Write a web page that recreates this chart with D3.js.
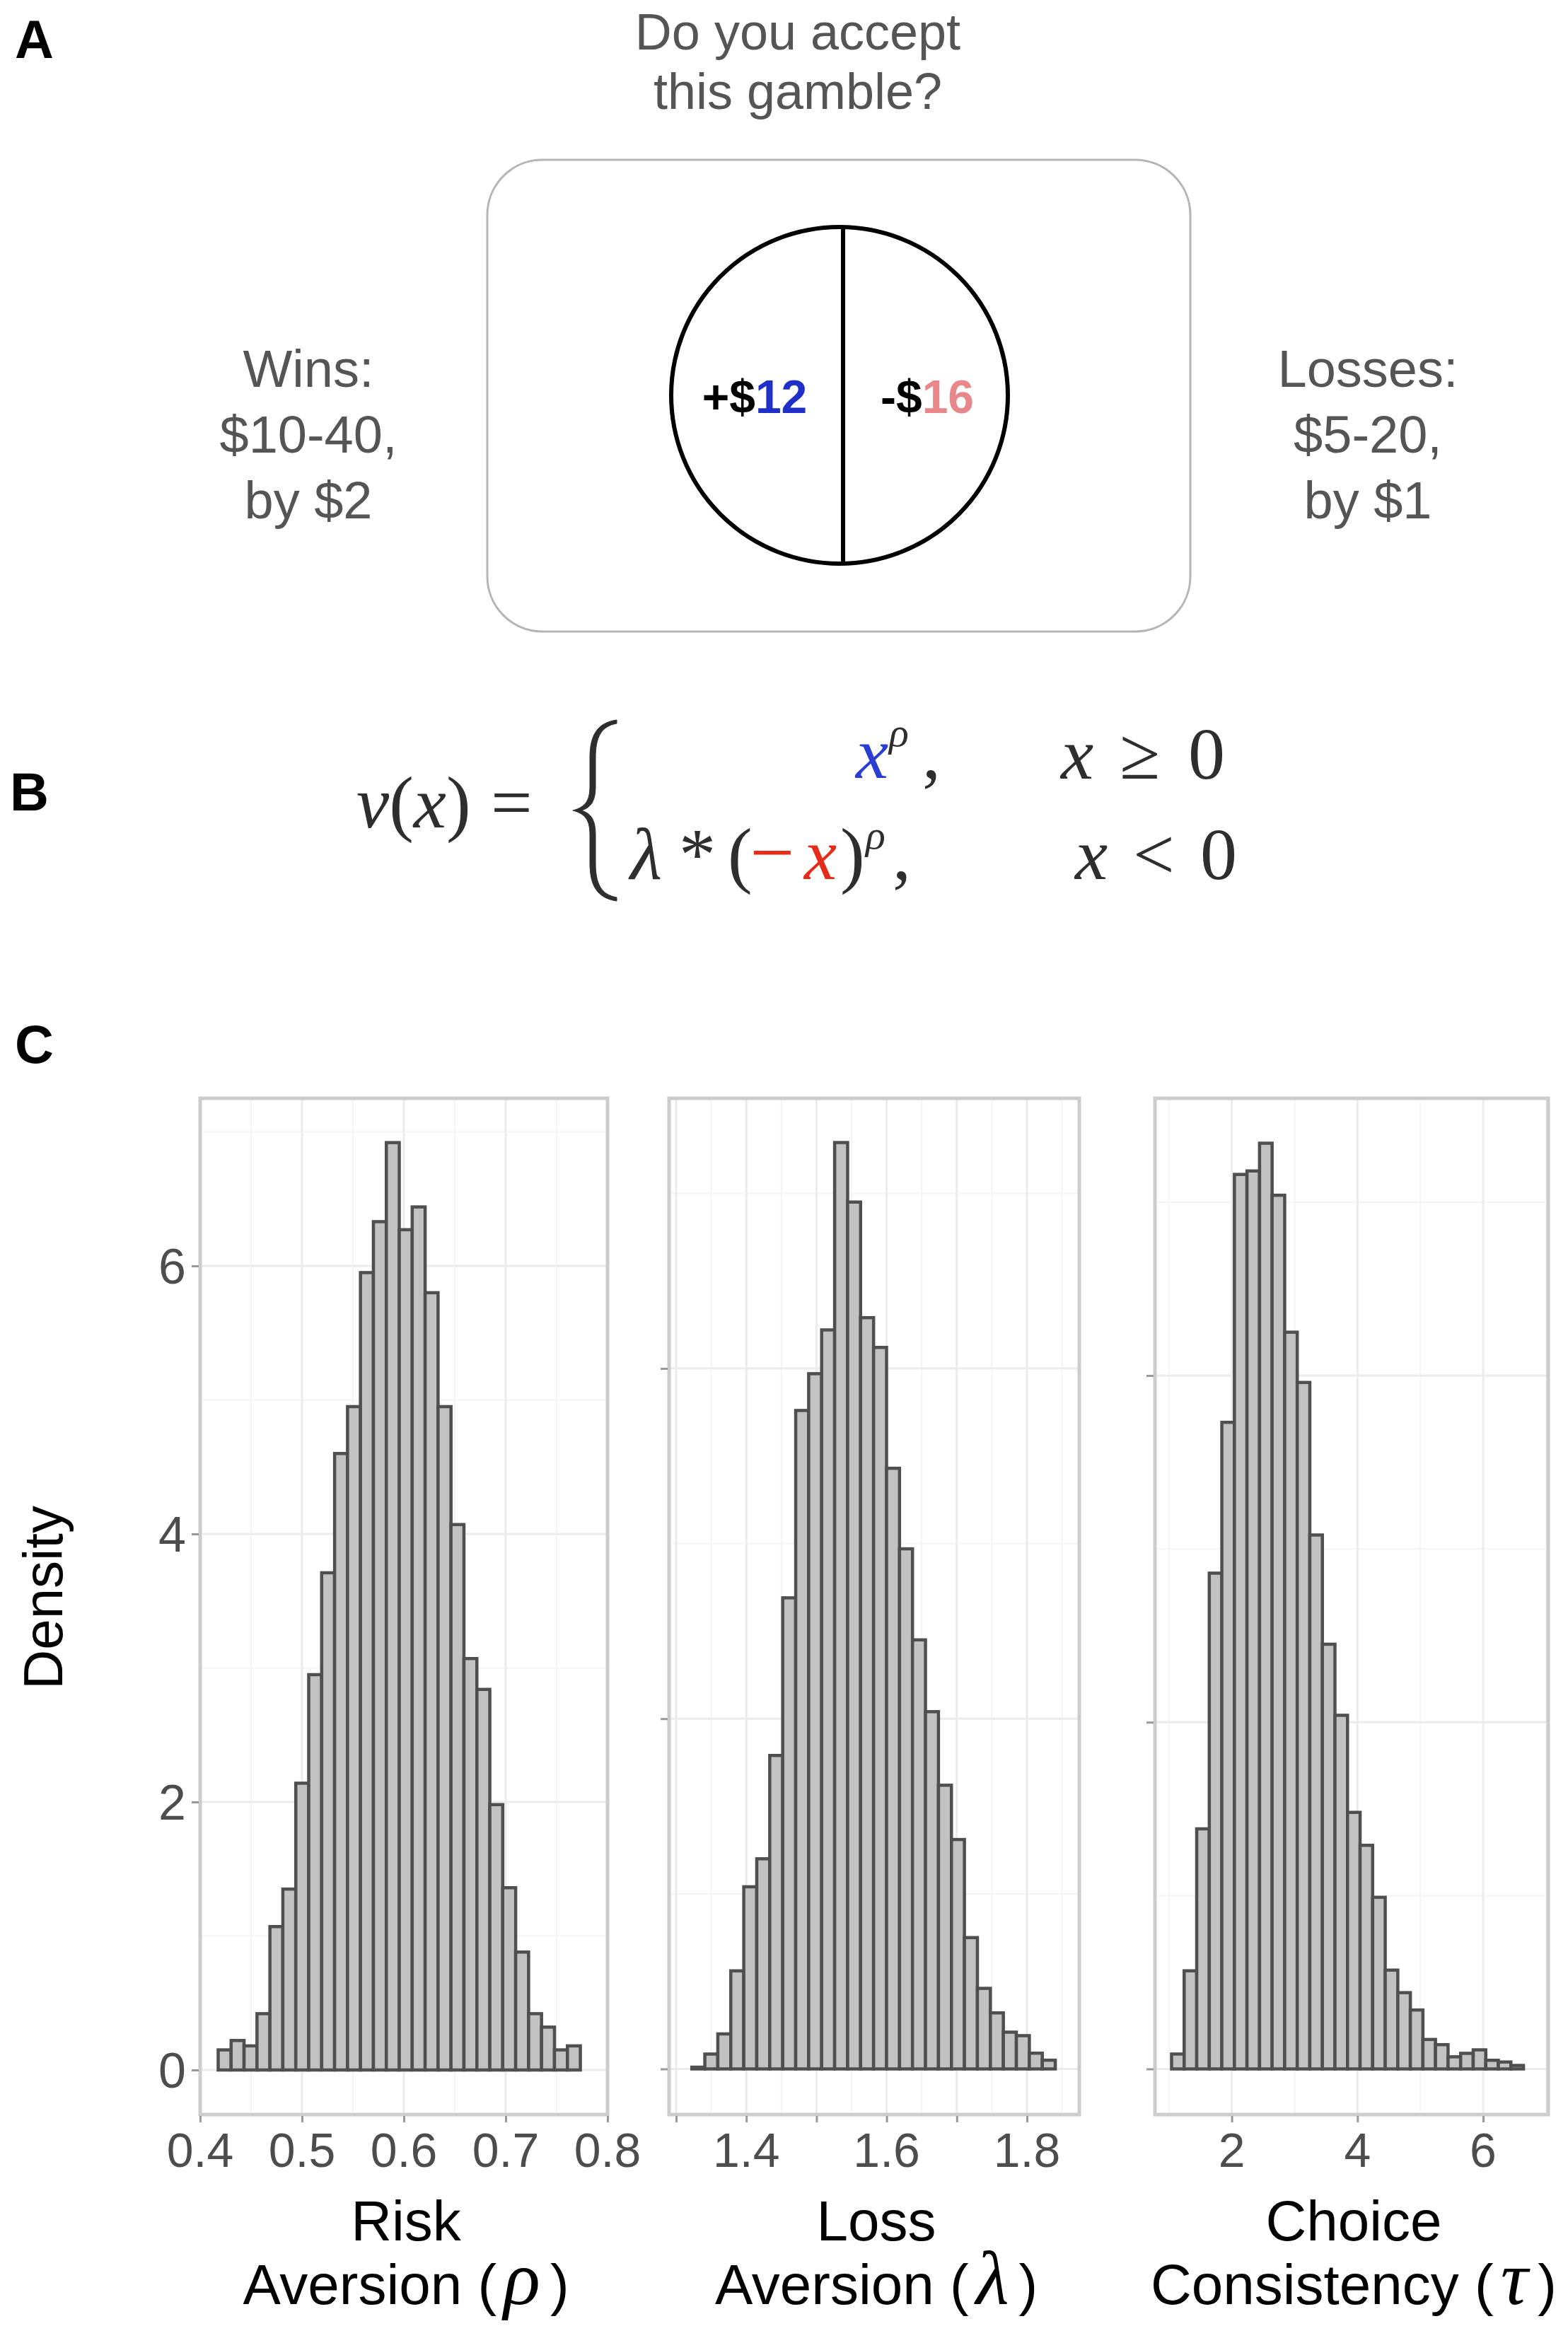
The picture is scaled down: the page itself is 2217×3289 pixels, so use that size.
<!DOCTYPE html>
<html>
<head>
<meta charset="utf-8">
<script src="https://cdn.jsdelivr.net/npm/d3@7"></script>
<style>
  html, body { margin: 0; padding: 0; background: #fff; }
  svg { display: block; }
</style>
</head>
<body>
<script>
// ---------------- DATA ----------------
const rhoDensity = [0.15, 0.22, 0.18, 0.42, 1.07, 1.35, 2.14, 2.95, 3.71, 4.60, 4.95, 5.95, 6.33, 6.92,
                    6.27, 6.44, 5.80, 4.95, 4.07, 3.07, 2.84, 1.98, 1.36, 0.88, 0.42, 0.32, 0.15, 0.18];
const lambdaDensity = [0.01, 0.085, 0.20, 0.56, 1.04, 1.20, 1.79, 2.69, 3.76, 3.97, 4.22, 5.29, 4.95, 4.29,
                       4.12, 3.43, 2.97, 2.45, 2.04, 1.62, 1.31, 0.75, 0.46, 0.32, 0.21, 0.19, 0.09, 0.05];
const tauDensity = [0.0086, 0.0566, 0.1385, 0.286, 0.373, 0.516, 0.518, 0.534, 0.504, 0.425, 0.396, 0.308,
                    0.245, 0.204, 0.148, 0.129, 0.099, 0.057, 0.044, 0.034, 0.017, 0.014, 0.007, 0.009,
                    0.011, 0.005, 0.004, 0.002];
const binStarts = [0.4177, 1.3224, 1.042];
const binWidths = [0.0127, 0.0185, 0.2];

const rhoTicks = [0.4, 0.5, 0.6, 0.7, 0.8];
const lambdaTicks = [1.4, 1.6, 1.8];
const tauTicks = [2, 4, 6];
const densityTicks = [0, 2, 4, 6];

const titleLine1 = ["Risk", "Loss", "Choice"];
const titleLine2 = ["Aversion", "Aversion", "Consistency"];
const titleSymbol = ["\u03C1", "\u03BB", "\u03C4"];

const winsLines = ["Wins:", "$10-40,", "by $2"];
const lossLines = ["Losses:", "$5-20,", "by $1"];

// ---------------- LAYOUT ----------------
const W = 2217, H = 3289;
const svg = d3.select("body").append("svg").attr("width", W).attr("height", H);
svg.append("rect").attr("width", W).attr("height", H).attr("fill", "#fff");
const SANS = "'Liberation Sans', Arial, Helvetica, sans-serif";
const SERIF = "'Liberation Serif', 'Times New Roman', serif";

// Panel letters
[["A", 21, 82], ["B", 14, 1146], ["C", 21, 1503]].forEach(([t, x, y]) => {
  svg.append("text").attr("x", x).attr("y", y).text(t)
    .attr("font-family", SANS).attr("font-weight", "bold").attr("font-size", 76).attr("fill", "#000");
});

// ---------------- PANEL A ----------------
const gray = "#555";
svg.append("text").attr("x", 1128).attr("y", 70).attr("text-anchor", "middle")
  .attr("font-family", SANS).attr("font-size", 72).attr("fill", gray).text("Do you accept");
svg.append("text").attr("x", 1128).attr("y", 154).attr("text-anchor", "middle")
  .attr("font-family", SANS).attr("font-size", 72).attr("fill", gray).text("this gamble?");

svg.append("rect").attr("x", 689).attr("y", 226).attr("width", 994).attr("height", 667)
  .attr("rx", 78).attr("ry", 78).attr("fill", "none").attr("stroke", "#b5b5b5").attr("stroke-width", 3);

svg.append("circle").attr("cx", 1187).attr("cy", 559).attr("r", 238)
  .attr("fill", "none").attr("stroke", "#000").attr("stroke-width", 6);
svg.append("line").attr("x1", 1192).attr("x2", 1192).attr("y1", 321).attr("y2", 797)
  .attr("stroke", "#000").attr("stroke-width", 6);

const winT = svg.append("text").attr("x", 1067).attr("y", 584).attr("text-anchor", "middle")
  .attr("font-family", SANS).attr("font-weight", "bold").attr("font-size", 66);
winT.append("tspan").attr("fill", "#000").text("+$");
winT.append("tspan").attr("fill", "#1f2fc8").text("12");
const lossT = svg.append("text").attr("x", 1311).attr("y", 584).attr("text-anchor", "middle")
  .attr("font-family", SANS).attr("font-weight", "bold").attr("font-size", 66);
lossT.append("tspan").attr("fill", "#000").text("-$");
lossT.append("tspan").attr("fill", "#e8868a").text("16");

winsLines.forEach((t, i) => {
  svg.append("text").attr("x", 436).attr("y", 547 + i * 93).attr("text-anchor", "middle")
    .attr("font-family", SANS).attr("font-size", 74).attr("fill", gray).text(t);
});
lossLines.forEach((t, i) => {
  svg.append("text").attr("x", 1934).attr("y", 547 + i * 93).attr("text-anchor", "middle")
    .attr("font-family", SANS).attr("font-size", 74).attr("fill", gray).text(t);
});

// ---------------- PANEL B (equation) ----------------
const eqCol = "#2e2e2e", blue = "#2a3fd0", red = "#e52b1a";
const EQ = 104;
function eq(txt, x, y, opts = {}) {
  svg.append("text").attr("x", x).attr("y", y).text(txt)
    .attr("font-family", SERIF).attr("font-size", opts.size || EQ)
    .attr("font-style", opts.italic ? "italic" : "normal")
    .attr("fill", opts.color || eqCol);
}
const eqLeft = svg.append("text").attr("x", 504).attr("y", 1170)
  .attr("font-family", SERIF).attr("font-size", EQ).attr("fill", eqCol);
eqLeft.append("tspan").attr("font-style", "italic").text("v");
eqLeft.append("tspan").text("(");
eqLeft.append("tspan").attr("font-style", "italic").text("x");
eqLeft.append("tspan").text(")");
eq("=", 694, 1170);
// brace (filled, thicker in the middle like a typeset brace)
svg.append("path")
  .attr("d", "M872,1018 C844,1022 834,1040 834,1072 L834,1112 C834,1132 828,1141 810,1146 " +
             "C828,1151 834,1160 834,1180 L834,1220 C834,1252 844,1270 872,1274 " +
             "L872,1269 C850,1265 842,1250 842,1220 L842,1180 C842,1160 836,1150 822,1146 " +
             "C836,1142 842,1132 842,1112 L842,1072 C842,1042 850,1027 872,1023 Z")
  .attr("fill", eqCol).attr("stroke", eqCol).attr("stroke-width", 1);
// row 1
eq("x", 1210, 1100, { italic: true, color: blue });
eq("\u03C1", 1257, 1055, { italic: true, size: 58, color: eqCol });
eq(",", 1304, 1100);
eq("x", 1500, 1101, { italic: true });
eq("\u2265", 1583, 1101);
eq("0", 1680, 1101);
// row 2
eq("\u03BB", 891, 1243, { italic: true });
eq("*", 960, 1243);
eq("(", 1029, 1243);
eq("\u2212", 1060, 1243, { color: red, size: 112 });
eq("x", 1137, 1243, { italic: true, color: red });
eq(")", 1188, 1243);
eq("\u03C1", 1224, 1200, { italic: true, size: 58 });
eq(",", 1262, 1243);
eq("x", 1520, 1243, { italic: true });
eq("<", 1602, 1243);
eq("0", 1697, 1243);

// ---------------- PANEL C (histograms) ----------------
const frameTop = 1553, frameBottom = 2990;
const panels = [
  { data: rhoDensity, left: 283, right: 859, xDom: [0.4, 0.8], xRange: [283, 859],
    yDom: [0, 6], yRange: [2927, 1790], xTicks: rhoTicks, tickMarks: [0.4, 0.5, 0.6, 0.7, 0.8],
    xMajor: [0.5, 0.6, 0.7], xMinor: [0.45, 0.55, 0.65, 0.75],
    yMajor: [0, 2, 4, 6], yMinor: [1, 3, 5, 7], fmt: d3.format(".1f"), yLabels: true },
  { data: lambdaDensity, left: 946, right: 1526, xDom: [1.3, 1.8], xRange: [956, 1452],
    yDom: [0, 4], yRange: [2925.5, 1935], xTicks: lambdaTicks, tickMarks: [1.3, 1.4, 1.5, 1.6, 1.7, 1.8],
    xMajor: [1.3, 1.4, 1.5, 1.6, 1.7, 1.8], xMinor: [1.35, 1.45, 1.55, 1.65, 1.75, 1.85],
    yMajor: [0, 2, 4], yMinor: [1, 3, 5], fmt: d3.format(".1f"), yLabels: false },
  { data: tauDensity, left: 1633, right: 2189, xDom: [2, 6], xRange: [1741.6, 2097],
    yDom: [0, 0.4], yRange: [2925.5, 1945], xTicks: tauTicks, tickMarks: [2, 4, 6],
    xMajor: [2, 4, 6], xMinor: [1, 3, 5, 7],
    yMajor: [0, 0.2, 0.4], yMinor: [0.1, 0.3, 0.5], fmt: d3.format("d"), yLabels: false }
];

panels.forEach((p, i) => {
  const x = d3.scaleLinear().domain(p.xDom).range(p.xRange);
  const y = d3.scaleLinear().domain(p.yDom).range(p.yRange);
  const g = svg.append("g");
  const inX = v => x(v) > p.left + 3 && x(v) < p.right - 3;
  const inY = v => y(v) > frameTop + 3 && y(v) < frameBottom - 3;

  // minor grid
  g.selectAll(".vmin").data(p.xMinor.filter(inX)).join("line")
    .attr("x1", d => x(d)).attr("x2", d => x(d)).attr("y1", frameTop).attr("y2", frameBottom)
    .attr("stroke", "#f4f4f4").attr("stroke-width", 2);
  g.selectAll(".hmin").data(p.yMinor.filter(inY)).join("line")
    .attr("x1", p.left).attr("x2", p.right).attr("y1", d => y(d)).attr("y2", d => y(d))
    .attr("stroke", "#f4f4f4").attr("stroke-width", 2);
  // major grid
  g.selectAll(".vmaj").data(p.xMajor.filter(inX)).join("line")
    .attr("x1", d => x(d)).attr("x2", d => x(d)).attr("y1", frameTop).attr("y2", frameBottom)
    .attr("stroke", "#ebebeb").attr("stroke-width", 3);
  g.selectAll(".hmaj").data(p.yMajor.filter(inY)).join("line")
    .attr("x1", p.left).attr("x2", p.right).attr("y1", d => y(d)).attr("y2", d => y(d))
    .attr("stroke", "#ebebeb").attr("stroke-width", 3);

  // bars
  const start = binStarts[i], bw = binWidths[i];
  g.selectAll("rect.bar").data(p.data).join("rect").attr("class", "bar")
    .attr("x", (d, k) => x(start + k * bw))
    .attr("width", (d, k) => x(start + (k + 1) * bw) - x(start + k * bw))
    .attr("y", d => y(d))
    .attr("height", d => y(0) - y(d))
    .attr("fill", "#c2c2c2").attr("stroke", "#4f4f4f").attr("stroke-width", 4.5);

  // frame
  g.append("rect").attr("x", p.left).attr("y", frameTop)
    .attr("width", p.right - p.left).attr("height", frameBottom - frameTop)
    .attr("fill", "none").attr("stroke", "#cccccc").attr("stroke-width", 5);

  // x axis ticks
  const xAxis = d3.axisBottom(x).tickValues(p.tickMarks).tickSize(9).tickFormat("");
  const ax = g.append("g").attr("transform", `translate(0,${frameBottom + 2})`).call(xAxis);
  ax.select(".domain").remove();
  ax.selectAll(".tick line").attr("stroke", "#999").attr("stroke-width", 3);

  g.selectAll(".xl").data(p.xTicks).join("text")
    .attr("x", d => x(d)).attr("y", 3064).attr("text-anchor", "middle")
    .attr("font-family", SANS).attr("font-size", 68).attr("fill", "#4d4d4d")
    .text(d => p.fmt(d));

  // y axis ticks
  const yAxis = d3.axisLeft(y).tickValues(p.yMajor).tickSize(10).tickFormat("");
  const ay = g.append("g").attr("transform", `translate(${p.left - 2},0)`).call(yAxis);
  ay.select(".domain").remove();
  ay.selectAll(".tick line").attr("stroke", "#999").attr("stroke-width", 3);
  if (p.yLabels) {
    g.selectAll(".yl").data(densityTicks).join("text")
      .attr("x", 263).attr("y", d => y(d) + 25).attr("text-anchor", "end")
      .attr("font-family", SANS).attr("font-size", 70).attr("fill", "#4d4d4d")
      .text(d => d);
  }

  // titles
  const cx = (p.left + p.right) / 2 + 3;
  svg.append("text").attr("x", cx).attr("y", 3168).attr("text-anchor", "middle")
    .attr("font-family", SANS).attr("font-size", 80).attr("fill", "#000").text(titleLine1[i]);
  const t2 = svg.append("text").attr("x", cx).attr("y", 3258).attr("text-anchor", "middle")
    .attr("font-family", SANS).attr("font-size", 80).attr("fill", "#000");
  t2.append("tspan").text(titleLine2[i] + " (");
  t2.append("tspan").attr("dx", 10).attr("font-style", "italic").attr("font-family", SERIF)
    .attr("font-size", 108).text(titleSymbol[i]);
  t2.append("tspan").attr("dx", 14).text(")");
});

// y title
svg.append("text").attr("transform", "translate(88,2259) rotate(-90)")
  .attr("text-anchor", "middle").attr("font-family", SANS).attr("font-size", 78)
  .attr("fill", "#000").text("Density");
</script>
</body>
</html>
